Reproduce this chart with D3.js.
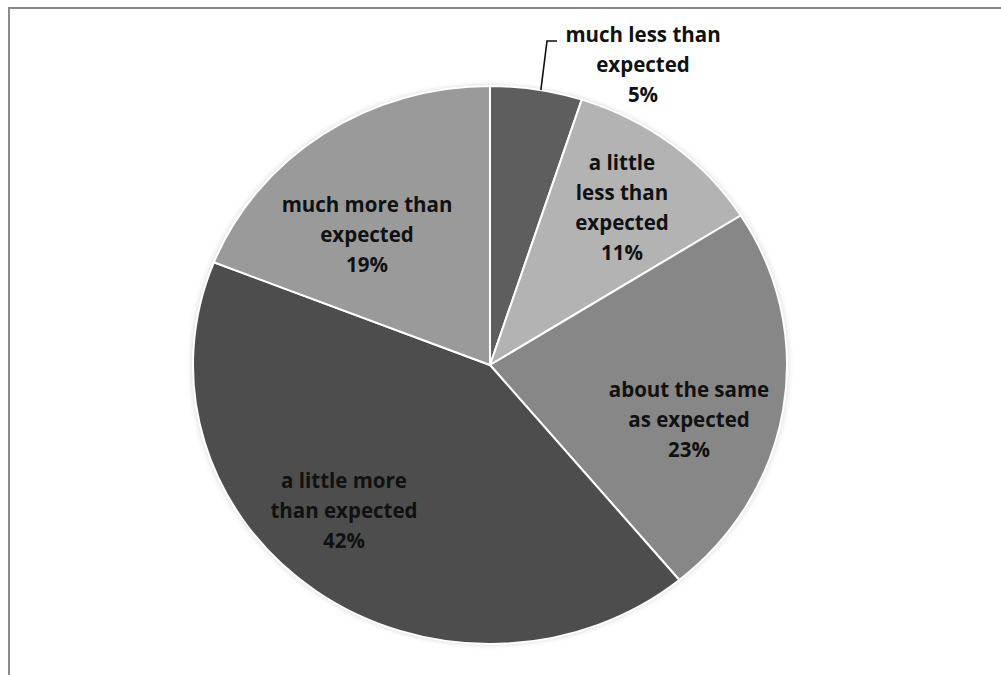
<!DOCTYPE html>
<html>
<head>
<meta charset="utf-8">
<script src="https://cdn.jsdelivr.net/npm/d3@7"></script>
<style>
  html, body { margin: 0; padding: 0; background: #fff; }
  svg { display: block; }
</style>
</head>
<body>
<script>
// Survey responses, clockwise from 12 o'clock
const categories = [
  ["much less than", "expected"],
  ["a little", "less than", "expected"],
  ["about the same", "as expected"],
  ["a little more", "than expected"],
  ["much more than", "expected"]
];
const values = [5, 11, 23, 42, 19];
const fills = ["#5e5e5e", "#b3b3b3", "#878787", "#4d4d4d", "#9a9a9a"];

const W = 1001, H = 675;
const cx = 490, cy = 365, R = 297;
const squash = 279 / 297;   // the pie is drawn slightly flattened

const svg = d3.select("body").append("svg")
  .attr("width", W).attr("height", H);

// chart frame
svg.append("path")
  .attr("d", `M9,${H} L9,8 L${W},8`)
  .attr("fill", "none").attr("stroke", "#8a8a8a").attr("stroke-width", 2);

const defs = svg.append("defs");
const f = defs.append("filter").attr("id", "soft")
  .attr("x", "-10%").attr("y", "-10%").attr("width", "120%").attr("height", "120%");
f.append("feGaussianBlur").attr("stdDeviation", 3);

const g = svg.append("g")
  .attr("transform", `translate(${cx},${cy}) scale(1,${squash})`);

// faint halo around the pie
g.append("circle").attr("r", R + 1).attr("fill", "#d8d8d8")
  .attr("filter", "url(#soft)");

const pie = d3.pie().sort(null).value(d => d);
const arcs = pie(values);
const arc = d3.arc().innerRadius(0).outerRadius(R);

g.selectAll("path.slice").data(arcs).join("path")
  .attr("class", "slice")
  .attr("d", arc)
  .attr("fill", (d, i) => fills[i])
  .attr("stroke", "#ffffff")
  .attr("stroke-width", 2)
  .attr("vector-effect", "non-scaling-stroke")
  .attr("stroke-linejoin", "round");

// label centres (page coordinates)
const fontSize = 20.5, lineH = 30;
const labelPos = [[643, 65], [622, 208], [689, 420], [344, 511], [367, 235]];

const labels = svg.append("g");
arcs.forEach((d, i) => {
  const lines = categories[i].concat([values[i] + "%"]);
  const n = lines.length;
  const t = labels.append("text")
    .attr("text-anchor", "middle")
    .attr("font-family", "'Open Sans', 'DejaVu Sans', sans-serif")
    .attr("font-weight", 700)
    .attr("font-size", fontSize)
    .attr("fill", "#111");
  lines.forEach((s, k) => {
    t.append("tspan")
      .attr("x", labelPos[i][0])
      .attr("y", labelPos[i][1] + (k - (n - 1) / 2) * lineH)
      .attr("dy", "0.35em")
      .text(s);
  });
});

// leader line for the outside label, from the thin slice's rim
const a0 = (arcs[0].startAngle + arcs[0].endAngle) / 2 + 0.015;
const p0 = [cx + Math.sin(a0) * R, cy - Math.cos(a0) * R * squash];
svg.append("path")
  .attr("d", `M${p0[0]},${p0[1]} L547,41 L557,41`)
  .attr("fill", "none").attr("stroke", "#111").attr("stroke-width", 1.6);
</script>
</body>
</html>
